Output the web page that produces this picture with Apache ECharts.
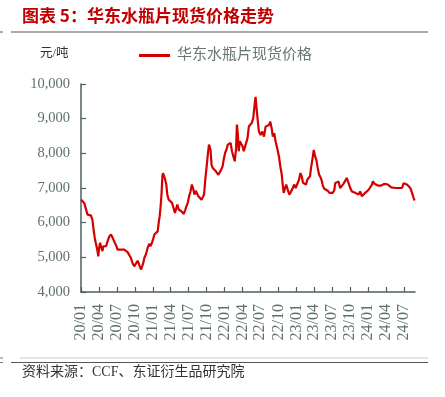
<!DOCTYPE html>
<html>
<head>
<meta charset="utf-8">
<script src="https://cdn.jsdelivr.net/npm/echarts@6/dist/echarts.min.js"></script>
<style>
  html, body { margin: 0; padding: 0; background: #fff; }
  #chart { width: 445px; height: 397px; }
</style>
</head>
<body>
<div id="chart"></div>
<script>
  // 华东水瓶片现货价格（元/吨）
  var dates = [
    '2020-01-02','2020-01-09','2020-01-17','2020-01-25','2020-02-03','2020-02-11','2020-02-20','2020-02-28',
    '2020-03-05','2020-03-11','2020-03-16','2020-03-25','2020-03-29','2020-04-02','2020-04-07','2020-04-14',
    '2020-04-19','2020-04-24','2020-05-01','2020-05-08','2020-05-15','2020-05-23','2020-06-01','2020-06-08',
    '2020-06-14','2020-06-21','2020-06-28','2020-07-05','2020-07-15','2020-07-22','2020-07-30','2020-08-08',
    '2020-08-16','2020-08-25','2020-09-02','2020-09-11','2020-09-19','2020-09-28','2020-10-06','2020-10-15',
    '2020-10-20','2020-10-27','2020-11-02','2020-11-06','2020-11-13','2020-11-18','2020-11-26','2020-12-05',
    '2020-12-13','2020-12-19','2020-12-25','2021-01-04','2021-01-08','2021-01-16','2021-01-25','2021-01-30',
    '2021-02-04','2021-02-09','2021-02-14','2021-02-18','2021-02-21','2021-02-25','2021-03-02','2021-03-07',
    '2021-03-10','2021-03-15','2021-03-22','2021-03-31','2021-04-08','2021-04-16','2021-04-23','2021-04-30',
    '2021-05-05','2021-05-12','2021-05-21','2021-05-29','2021-06-07','2021-06-15','2021-06-20','2021-06-27',
    '2021-07-04','2021-07-11','2021-07-18','2021-07-24','2021-07-31','2021-08-07','2021-08-13','2021-08-20',
    '2021-08-27','2021-09-05','2021-09-13','2021-09-18','2021-09-25','2021-10-02','2021-10-08','2021-10-13',
    '2021-10-21','2021-10-26','2021-11-01','2021-11-08','2021-11-17','2021-11-23','2021-11-30','2021-12-07',
    '2021-12-14','2021-12-21','2021-12-27','2022-01-03','2022-01-10','2022-01-17','2022-01-24','2022-01-31',
    '2022-02-07','2022-02-14','2022-02-21','2022-02-28','2022-03-04','2022-03-09','2022-03-13','2022-03-19',
    '2022-03-26','2022-04-02','2022-04-08','2022-04-15','2022-04-22','2022-04-27','2022-05-04','2022-05-09',
    '2022-05-18','2022-05-26','2022-06-04','2022-06-07','2022-06-12','2022-06-17','2022-06-24','2022-07-03',
    '2022-07-11','2022-07-20','2022-07-28','2022-08-05','2022-08-14','2022-08-21','2022-08-28','2022-09-03',
    '2022-09-10','2022-09-17','2022-09-25','2022-10-04','2022-10-11','2022-10-18','2022-10-23','2022-10-28',
    '2022-11-04','2022-11-10','2022-11-17','2022-11-26','2022-12-04','2022-12-13','2022-12-21','2022-12-28',
    '2023-01-05','2023-01-14','2023-01-21','2023-01-28','2023-02-03','2023-02-10','2023-02-19','2023-02-25',
    '2023-03-04','2023-03-11','2023-03-16','2023-03-23','2023-03-30','2023-04-06','2023-04-12','2023-04-19',
    '2023-04-26','2023-05-05','2023-05-10','2023-05-16','2023-05-23','2023-06-01','2023-06-09','2023-06-18',
    '2023-06-26','2023-07-05','2023-07-13','2023-07-17','2023-07-26','2023-08-03','2023-08-11','2023-08-20',
    '2023-08-28','2023-09-06','2023-09-14','2023-09-23','2023-10-02','2023-10-10','2023-10-18','2023-10-27',
    '2023-11-04','2023-11-13','2023-11-21','2023-11-30','2023-12-08','2023-12-17','2023-12-25','2024-01-03',
    '2024-01-11','2024-01-20','2024-01-25','2024-02-02','2024-02-11','2024-02-19','2024-02-28','2024-03-07',
    '2024-03-16','2024-03-24','2024-04-02','2024-04-10','2024-04-19','2024-04-27','2024-05-06','2024-05-18',
    '2024-05-26','2024-06-04','2024-06-12','2024-06-21','2024-06-29','2024-07-08','2024-07-16','2024-07-25',
    '2024-08-02','2024-08-11','2024-08-19','2024-08-24'
  ];
  var prices = [
    6660,6660,6570,6420,6230,6180,6210,6090,
    5800,5560,5420,5180,5030,5270,5420,5270,
    5180,5320,5370,5320,5460,5590,5660,5590,
    5510,5420,5340,5220,5180,5220,5200,5220,
    5180,5150,5110,4980,4840,4740,4790,4900,
    4840,4720,4650,4700,4840,4980,5080,5270,
    5390,5320,5390,5560,5660,5630,5750,5990,
    6180,6470,6860,7340,7430,7380,7290,7240,
    7100,6810,6660,6620,6570,6420,6280,6420,
    6520,6380,6330,6310,6250,6380,6470,6570,
    6760,6900,7100,7000,6810,6920,6880,6760,
    6710,6660,6620,6810,7290,7670,8010,8250,
    8100,7670,7580,7620,7480,7530,7380,7430,
    7530,7620,7820,8010,8110,8250,8200,8300,
    8060,7910,7770,8150,8830,8540,8060,8350,
    8300,8200,8060,8200,8150,8440,8780,8830,
    8870,9010,9490,9630,9300,9010,8630,8530,
    8630,8480,8770,8720,8820,8910,8720,8480,
    8580,8340,8150,7910,7620,7390,7100,6860,
    7000,7100,6960,6810,6890,7000,7100,7000,
    7050,7240,7430,7340,7150,7120,7100,7240,
    7190,7340,7580,7820,8100,7910,7820,7580,
    7390,7290,7200,7050,6980,6960,6920,6860,
    6910,6860,6950,7140,7100,7190,7000,7050,
    7120,7140,7290,7140,7000,6900,6860,6860,
    6900,6810,6900,6760,6760,6860,6900,6950,
    6900,7100,7190,7120,7100,7070,7100,7070,
    7100,7120,7140,7100,7070,7020,7000,7000,
    6970,7000,6970,7000,7140,7120,7100,7050,
    7000,6860,6710,6640
  ];
  // x 轴季度刻度
  var quarterTicks = [
    '2020-01-01','2020-04-01','2020-07-01','2020-10-01',
    '2021-01-01','2021-04-01','2021-07-01','2021-10-01',
    '2022-01-01','2022-04-01','2022-07-01','2022-10-01',
    '2023-01-01','2023-04-01','2023-07-01','2023-10-01',
    '2024-01-01','2024-04-01','2024-07-01'
  ];
  var seriesName = '华东水瓶片现货价格';

  function toTime(s) {
    var p = s.split('-');
    return Date.UTC(+p[0], +p[1] - 1, +p[2]);
  }
  var tickTimes = quarterTicks.map(toTime);

  var serif = '"Liberation Serif", "Noto Sans CJK SC", serif';
  var axisColor = '#4f5f5f';
  var labelColor = '#5f6f6f';

  var myChart = echarts.init(document.getElementById('chart'));
  myChart.setOption({
    backgroundColor: '#fff',
    animation: false,
    color: ['#d40000'],
    graphic: [
      { type: 'text', left: 22, top: 7,
        style: { text: '图表 5：华东水瓶片现货价格走势', fill: '#c00000', fontSize: 17, fontWeight: 'bold', fontFamily: '"Noto Sans CJK SC"' } },
      { type: 'line', shape: { x1: 11, y1: 32, x2: 428, y2: 32 }, style: { stroke: '#555', lineWidth: 1.2 } },
      { type: 'line', shape: { x1: 0, y1: 32, x2: 3, y2: 32 }, style: { stroke: '#555', lineWidth: 1 } },
      { type: 'text', left: 40, top: 47,
        style: { text: '元/吨', fill: '#333', fontSize: 12.5, fontFamily: serif } },
      { type: 'line', shape: { x1: 20, y1: 358, x2: 428, y2: 358 }, style: { stroke: '#c8c8c8', lineWidth: 1 } },
      { type: 'line', shape: { x1: 11, y1: 362.5, x2: 428, y2: 362.5 }, style: { stroke: '#555', lineWidth: 1.2 } },
      { type: 'line', shape: { x1: 0, y1: 358, x2: 3, y2: 358 }, style: { stroke: '#777', lineWidth: 1 } },
      { type: 'line', shape: { x1: 0, y1: 362.5, x2: 3, y2: 362.5 }, style: { stroke: '#777', lineWidth: 1 } },
      { type: 'text', left: 22, top: 365,
        style: { text: '资料来源：CCF、东证衍生品研究院', fill: '#333', fontSize: 14, fontFamily: serif } }
    ],
    legend: {
      show: true,
      data: [seriesName],
      left: 139,
      top: 48,
      padding: 0,
      icon: 'rect',
      itemWidth: 31,
      itemHeight: 3,
      textStyle: { color: '#667676', fontSize: 15, fontFamily: serif, padding: [0, 0, 0, 2] }
    },
    grid: { left: 81, right: 30, top: 84, bottom: 105, containLabel: false },
    xAxis: {
      type: 'value',
      min: toTime('2020-01-01'),
      max: toTime('2024-08-26'),
      axisLine: { show: true, lineStyle: { color: axisColor, width: 1.5 } },
      axisTick: { show: true, inside: true, length: 5, customValues: tickTimes, lineStyle: { color: axisColor, width: 1.2 } },
      splitLine: { show: false },
      axisLabel: {
        customValues: tickTimes,
        rotate: 90,
        margin: 12,
        hideOverlap: false,
        color: labelColor,
        fontSize: 16,
        fontFamily: serif,
        formatter: function (v) {
          var d = new Date(v);
          return String(d.getUTCFullYear()).slice(2) + '/' + ('0' + (d.getUTCMonth() + 1)).slice(-2);
        }
      }
    },
    yAxis: {
      type: 'value',
      min: 4000,
      max: 10000,
      interval: 1000,
      axisLine: { show: true, lineStyle: { color: axisColor, width: 1.5 } },
      axisTick: { show: true, inside: true, length: 5, lineStyle: { color: axisColor, width: 1.2 } },
      splitLine: { show: false },
      axisLabel: {
        margin: 11,
        color: labelColor,
        fontSize: 14.5,
        fontFamily: serif,
        formatter: function (v) { return v.toLocaleString('en-US'); }
      }
    },
    series: [{
      name: seriesName,
      type: 'line',
      showSymbol: false,
      smooth: false,
      lineStyle: { color: '#d40000', width: 2.2 },
      data: dates.map(function (d, i) { return [toTime(d), prices[i]]; })
    }]
  });
</script>
</body>
</html>
